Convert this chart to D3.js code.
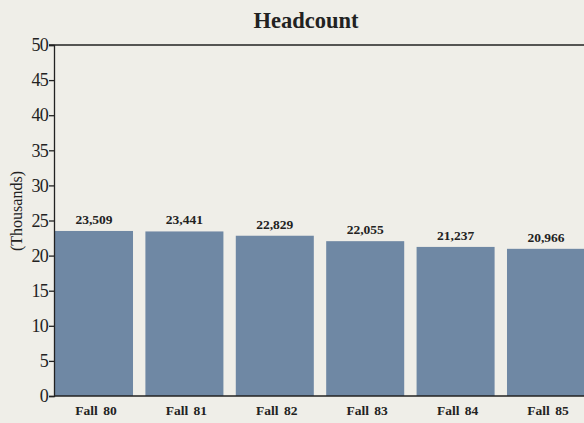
<!DOCTYPE html>
<html lang="en">
<head>
<meta charset="UTF-8">
<title>Headcount</title>
<script src="https://d3js.org/d3.v7.min.js"></script>
<style>
    body {
        margin: 0;
        background: #efeee8;
    }
    text {
        font-family: "Liberation Serif", "DejaVu Serif", serif;
        fill: #222;
    }
</style>
</head>
<body>
<div id="chart"></div>
<script>
// data
var categories = ["Fall 80", "Fall 81", "Fall 82", "Fall 83", "Fall 84", "Fall 85"];
var headcount = [23509, 23441, 22829, 22055, 21237, 20966];
var yTicks = [0, 5, 10, 15, 20, 25, 30, 35, 40, 45, 50];

var width = 584, height = 423;
var plotLeft = 54, plotTop = 45, plotBottom = 396;

var svg = d3.select("#chart")
    .append("svg")
    .attr("width", width)
    .attr("height", height);

svg.append("rect")
    .attr("width", width)
    .attr("height", height)
    .attr("fill", "#efeee8");

var x = d3.scaleBand()
    .domain(categories)
    .range([plotLeft + 1, 585])
    .paddingInner(0.137)
    .paddingOuter(0);

var y = d3.scaleLinear()
    .domain([0, 50])
    .range([plotBottom, plotTop]);

// bars
svg.selectAll("rect.bar")
    .data(headcount)
    .enter().append("rect")
    .attr("class", "bar")
    .attr("x", function(d, i) { return x(categories[i]); })
    .attr("width", x.bandwidth())
    .attr("y", function(d) { return y(d / 1000); })
    .attr("height", function(d) { return plotBottom - y(d / 1000); })
    .attr("fill", "#6f88a4");

// value labels
svg.selectAll("text.val")
    .data(headcount)
    .enter().append("text")
    .attr("class", "val")
    .attr("x", function(d, i) { return x(categories[i]) + x.bandwidth() / 2; })
    .attr("y", function(d) { return y(d / 1000) - 7; })
    .attr("text-anchor", "middle")
    .style("font-size", "13.5px")
    .style("font-weight", "bold")
    .text(function(d) { return d3.format(",")(d); });

// y axis
var yAxis = svg.append("g")
    .attr("transform", "translate(" + plotLeft + ",0)")
    .call(d3.axisLeft(y).tickValues(yTicks).tickSize(5).tickPadding(1));
yAxis.attr("font-size", 18).attr("font-family", "'Liberation Serif', serif");
yAxis.select(".domain").attr("stroke", "#222").attr("stroke-width", 1.3);
yAxis.selectAll("line").attr("stroke", "#222").attr("stroke-width", 1.3);
yAxis.selectAll("text")
    .style("font-size", "18px")
    .style("letter-spacing", "-0.8px")
    .attr("fill", "#222");

// top and bottom rules
svg.append("line")
    .attr("x1", plotLeft - 5).attr("x2", width)
    .attr("y1", plotTop).attr("y2", plotTop)
    .attr("stroke", "#222").attr("stroke-width", 1.5);
svg.append("line")
    .attr("x1", plotLeft).attr("x2", width)
    .attr("y1", plotBottom).attr("y2", plotBottom)
    .attr("stroke", "#222").attr("stroke-width", 1.5);

// x labels
svg.selectAll("text.cat")
    .data(categories)
    .enter().append("text")
    .attr("class", "cat")
    .attr("x", function(d) { return x(d) + x.bandwidth() / 2 + 2; })
    .attr("y", 415)
    .attr("text-anchor", "middle")
    .style("font-size", "13.5px")
    .style("font-weight", "bold")
    .style("word-spacing", "2px")
    .text(function(d) { return d; });

// title
svg.append("text")
    .attr("x", 306)
    .attr("y", 28)
    .attr("text-anchor", "middle")
    .style("font-size", "22.5px")
    .style("font-weight", "bold")
    .text("Headcount");

// y axis title
svg.append("text")
    .attr("transform", "translate(22,211) rotate(-90)")
    .attr("text-anchor", "middle")
    .style("font-size", "16px")
    .text("(Thousands)");
</script>
</body>
</html>
